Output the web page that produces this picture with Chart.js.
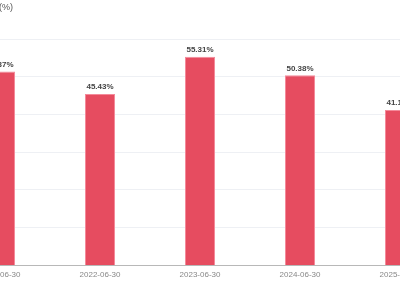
<!DOCTYPE html>
<html>
<head>
<meta charset="utf-8">
<script src="https://cdn.jsdelivr.net/npm/chart.js@4/dist/chart.umd.min.js"></script>
<style>
  html, body { margin: 0; padding: 0; overflow: hidden; background: #fff; }
  #wrap { position: absolute; left: -50px; top: 0; width: 500px; height: 300px; }
</style>
</head>
<body>
<div id="wrap"><canvas id="myChart"></canvas></div>
<script>
var dates = ['2021-06-30', '2022-06-30', '2023-06-30', '2024-06-30', '2025-06-30'];
var ratios = [51.37, 45.43, 55.31, 50.38, 41.18];
var yTicks = [0, 10, 20, 30, 40, 50, 60];
var unitLabel = '(%)';

// value labels above each bar
var valueLabels = {
  id: 'valueLabels',
  afterDatasetsDraw: function(chart) {
    var ctx = chart.ctx;
    var meta = chart.getDatasetMeta(0);
    ctx.save();
    ctx.font = 'bold 8px "Liberation Sans", Arial, sans-serif';
    ctx.fillStyle = '#444';
    ctx.textAlign = 'center';
    ctx.textBaseline = 'bottom';
    meta.data.forEach(function(bar, i) {
      ctx.fillText(ratios[i].toFixed(2) + '%', bar.x, bar.y - 3);
    });
    ctx.restore();
  }
};

// unit text in the top left corner
var unitText = {
  id: 'unitText',
  afterDraw: function(chart) {
    var ctx = chart.ctx;
    ctx.save();
    ctx.font = '9px "Liberation Sans", Arial, sans-serif';
    ctx.fillStyle = '#555';
    ctx.textAlign = 'left';
    ctx.textBaseline = 'middle';
    ctx.fillText(unitLabel, chart.chartArea.left + 49, 8);
    ctx.restore();
  }
};

var ctx = document.getElementById('myChart').getContext('2d');
var myChart = new Chart(ctx, {
  type: 'bar',
  data: {
    labels: dates,
    datasets: [{
      data: ratios,
      backgroundColor: '#e64c60',
      borderColor: '#f48a9a',
      borderWidth: 1,
      barPercentage: 0.6,
      categoryPercentage: 0.5
    }]
  },
  options: {
    responsive: true,
    maintainAspectRatio: false,
    animation: false,
    layout: { padding: { top: 39, bottom: 15, left: 0, right: 0 } },
    plugins: {
      legend: { display: false },
      tooltip: { enabled: false }
    },
    scales: {
      x: {
        grid: { display: false, drawTicks: false },
        border: { display: true, color: '#b8b8b8', width: 1 },
        ticks: {
          color: '#888',
          padding: 5,
          maxRotation: 0,
          autoSkip: false,
          font: { size: 8, family: '"Liberation Sans", Arial, sans-serif' }
        }
      },
      y: {
        display: true,
        min: yTicks[0],
        max: yTicks[yTicks.length - 1],
        afterBuildTicks: function(axis) {
          axis.ticks = yTicks.map(function(v) { return { value: v }; });
        },
        afterFit: function(axis) { axis.width = 0; },
        grid: { color: '#eef0f4', drawTicks: false },
        border: { display: false },
        ticks: { display: false }
      }
    }
  },
  plugins: [valueLabels, unitText]
});
</script>
</body>
</html>
